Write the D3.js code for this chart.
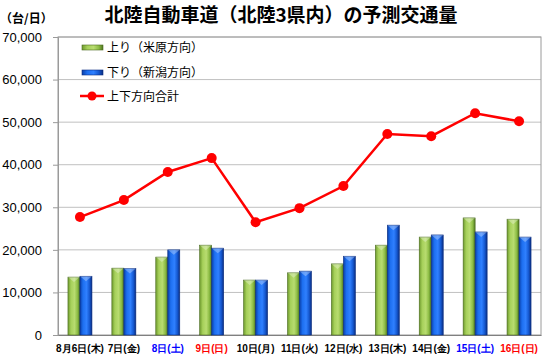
<!DOCTYPE html>
<html>
<head>
<meta charset="utf-8">
<script src="https://cdn.jsdelivr.net/npm/d3@7"></script>
<style>
body { margin: 0; background: #fff; }
svg { display: block; font-family: "Noto Sans CJK JP", "Noto Sans", sans-serif; }
</style>
</head>
<body>
<svg id="chart" width="544" height="358"></svg>
<script>
// ---------------- data ----------------
var days = ["8月6日(木)", "7日(金)", "8日(土)", "9日(日)", "10日(月)", "11日(火)",
            "12日(水)", "13日(木)", "14日(金)", "15日(土)", "16日(日)"];
var dayColors = ["#000", "#000", "#0000ff", "#ff0000", "#000", "#000",
                 "#000", "#000", "#000", "#0000ff", "#ff0000"];
var up = [13600, 15700, 18300, 21100, 12900, 14600, 16700, 21100, 23000, 27500, 27200];   // 上り（米原方向）
var down = [13800, 15600, 20000, 20400, 12900, 15000, 18500, 25800, 23500, 24200, 23000]; // 下り（新潟方向）
var total = [27700, 31700, 38300, 41550, 26500, 29800, 35000, 47200, 46700, 52100, 50200]; // 上下方向合計
var yTicks = [0, 10000, 20000, 30000, 40000, 50000, 60000, 70000];

var svg = d3.select("#chart"),
    plotL = 58, plotR = 541, plotT = 37, plotB = 335;

var x = d3.scaleBand().domain(days).range([plotL, plotR]).paddingInner(0).paddingOuter(0);
var y = d3.scaleLinear().domain([0, 70000]).range([plotB, plotT]);
var bw = 12;

// gradients
var defs = svg.append("defs");
function grad(id, stops) {
    var g = defs.append("linearGradient").attr("id", id).attr("x1", "0").attr("x2", "1").attr("y1", "0").attr("y2", "0");
    stops.forEach(function (s) { g.append("stop").attr("offset", s[0]).attr("stop-color", s[1]); });
}
grad("gGreen", [[0, "#6e9a2e"], [0.25, "#a6d05a"], [0.55, "#b8dc70"], [0.8, "#8cbc44"], [1, "#4e7420"]]);
grad("gBlue", [[0, "#0a3fa8"], [0.25, "#1d6ff0"], [0.55, "#2f80ff"], [0.8, "#1558d0"], [1, "#0a2d80"]]);

// title
svg.append("text").attr("x", 281).attr("y", 22).attr("text-anchor", "middle")
    .attr("font-size", 19).attr("font-weight", "bold").text("北陸自動車道（北陸3県内）の予測交通量");
svg.append("text").attr("x", 0).attr("y", 23).attr("font-size", 12).attr("font-weight", "bold").text("（台/日）");

// gridlines
svg.append("g").selectAll("line").data(yTicks.slice(1)).join("line")
    .attr("x1", plotL).attr("x2", plotR)
    .attr("y1", function (d) { return y(d); }).attr("y2", function (d) { return y(d); })
    .attr("stroke", "#c0c0c0").attr("stroke-width", 1);

// plot frame
svg.append("rect").attr("x", plotL).attr("y", plotT).attr("width", plotR - plotL).attr("height", plotB - plotT)
    .attr("fill", "none").attr("stroke", "#9a9a9a");

// y axis
var yAxis = svg.append("g").attr("transform", "translate(" + plotL + ",0)")
    .call(d3.axisLeft(y).tickValues(yTicks).tickSize(5).tickPadding(11).tickFormat(d3.format(",")));
yAxis.select(".domain").attr("stroke", "#9a9a9a");
yAxis.selectAll(".tick line").attr("stroke", "#9a9a9a");
yAxis.selectAll("text").attr("font-size", 13).attr("fill", "#000")
    .attr("font-family", "Liberation Sans, Arial, sans-serif");

// x axis
var xAxis = svg.append("g").attr("transform", "translate(0," + plotB + ")")
    .call(d3.axisBottom(x).tickSize(0).tickPadding(10));
xAxis.select(".domain").attr("stroke", "#808080");
xAxis.selectAll("text").attr("font-size", 10).attr("font-weight", "bold")
    .attr("fill", function (d, i) { return dayColors[i]; });

// bars
function bars(data, offset, fill, stroke) {
    var g = svg.append("g");
    g.selectAll("rect").data(data).join("rect")
        .attr("x", function (d, i) { return x(days[i]) + x.bandwidth() / 2 + offset; })
        .attr("y", function (d) { return y(d); })
        .attr("width", bw).attr("height", function (d) { return plotB - y(d); })
        .attr("fill", fill).attr("stroke", stroke).attr("stroke-width", 0.6);
    // bevelled top
    g.selectAll("path").data(data).join("path")
        .attr("d", function (d, i) {
            var x0 = x(days[i]) + x.bandwidth() / 2 + offset, y0 = y(d);
            return "M" + x0 + "," + y0 + "L" + (x0 + bw) + "," + y0 + "L" + (x0 + bw / 2) + "," + (y0 + 5) + "Z";
        })
        .attr("fill", "#ffffff").attr("opacity", 0.3);
}
bars(up, -bw, "url(#gGreen)", "#4a6a20");
bars(down, 0, "url(#gBlue)", "#0a2d80");

// total line
var line = d3.line()
    .x(function (d, i) { return x(days[i]) + x.bandwidth() / 2; })
    .y(function (d) { return y(d); });
svg.append("path").datum(total).attr("d", line).attr("fill", "none").attr("stroke", "#ff0000").attr("stroke-width", 2.5);
svg.append("g").selectAll("circle").data(total).join("circle")
    .attr("cx", function (d, i) { return x(days[i]) + x.bandwidth() / 2; })
    .attr("cy", function (d) { return y(d); })
    .attr("r", 5).attr("fill", "#ff0000");

// legend
var legend = svg.append("g").attr("font-size", 12);
legend.append("rect").attr("x", 82).attr("y", 45).attr("width", 21).attr("height", 5)
    .attr("fill", "url(#gGreen)").attr("stroke", "#4a6a20").attr("stroke-width", 0.6);
legend.append("text").attr("x", 107).attr("y", 52).text("上り（米原方向）");
legend.append("rect").attr("x", 82).attr("y", 70).attr("width", 21).attr("height", 5)
    .attr("fill", "url(#gBlue)").attr("stroke", "#0a2d80").attr("stroke-width", 0.6);
legend.append("text").attr("x", 107).attr("y", 77).text("下り（新潟方向）");
legend.append("line").attr("x1", 80).attr("x2", 104).attr("y1", 96).attr("y2", 96)
    .attr("stroke", "#ff0000").attr("stroke-width", 2.5);
legend.append("circle").attr("cx", 92).attr("cy", 96).attr("r", 4.5).attr("fill", "#ff0000");
legend.append("text").attr("x", 107).attr("y", 101).text("上下方向合計");
</script>
</body>
</html>
